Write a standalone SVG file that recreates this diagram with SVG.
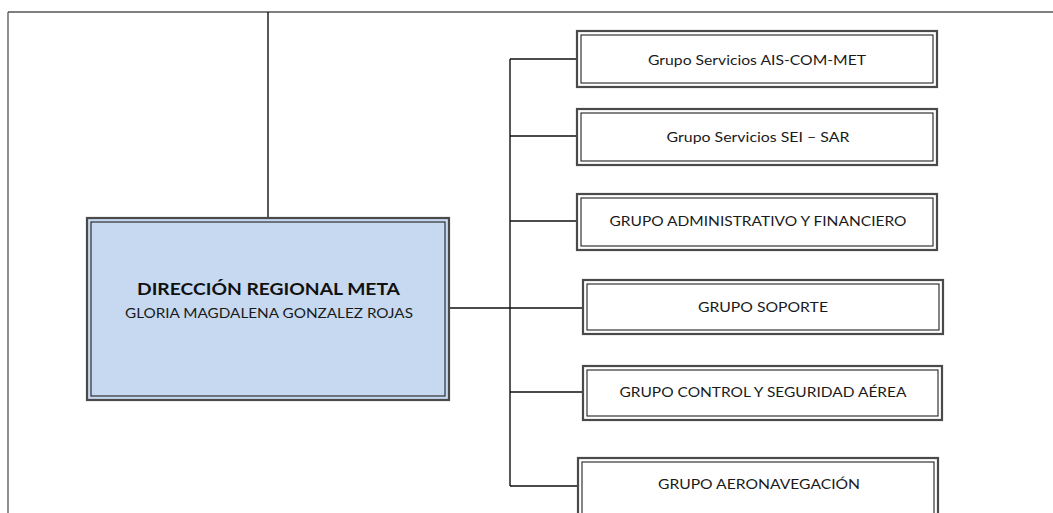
<svg xmlns="http://www.w3.org/2000/svg" width="1053" height="513" viewBox="0 0 1053 513">
<style>
.frame{stroke:#555;stroke-width:1.3;fill:none}
.conn{stroke:#111;stroke-width:1.4;fill:none}
.bo{fill:#fff;stroke:#4a4a4a;stroke-width:2.2}
.bi{fill:none;stroke:#222;stroke-width:1.1}
.mo{fill:#c6d9f0;stroke:#4a4a4a;stroke-width:2.2}
.mi{fill:#c6d9f0;stroke:#222;stroke-width:1.1}
.t{font-family:Lato,"Liberation Sans",sans-serif;font-size:14px;fill:#1a1a1a;text-anchor:middle}
.tb{font-family:Lato,"Liberation Sans",sans-serif;font-size:17px;font-weight:bold;fill:#111;text-anchor:middle}
</style>
<rect width="1053" height="513" fill="#fff"/>
<g id="frame">
<path class="frame" d="M8,12H1053M8,12V513"/>
</g>
<g id="connectors">
<path class="conn" d="M268,12V217"/>
<path class="conn" d="M449,308H583"/>
<path class="conn" d="M510,59V486"/>
<path class="conn" d="M510,59H577M510,136H577M510,221H577M510,392H583M510,486H578"/>
</g>
<g id="main">
<rect class="mo" x="87" y="218" width="362" height="182"/>
<rect class="mi" x="91" y="222" width="354" height="174"/>
<text class="tb" x="268.5" y="295" textLength="263" lengthAdjust="spacingAndGlyphs">DIRECCIÓN REGIONAL META</text>
<text class="t" x="269" y="318" textLength="288" lengthAdjust="spacingAndGlyphs">GLORIA MAGDALENA GONZALEZ ROJAS</text>
</g>
<g id="n1">
<rect class="bo" x="577" y="31" width="360" height="56"/>
<rect class="bi" x="581" y="35" width="352" height="48"/>
<text class="t" x="757" y="65" textLength="218" lengthAdjust="spacingAndGlyphs">Grupo Servicios AIS-COM-MET</text>
</g>
<g id="n2">
<rect class="bo" x="577" y="109" width="360" height="56"/>
<rect class="bi" x="581" y="113" width="352" height="48"/>
<text class="t" x="758" y="142" textLength="183" lengthAdjust="spacingAndGlyphs">Grupo Servicios SEI – SAR</text>
</g>
<g id="n3">
<rect class="bo" x="577" y="194" width="360" height="56"/>
<rect class="bi" x="581" y="198" width="352" height="48"/>
<text class="t" x="758" y="226" textLength="297" lengthAdjust="spacingAndGlyphs">GRUPO  ADMINISTRATIVO Y FINANCIERO</text>
</g>
<g id="n4">
<rect class="bo" x="583" y="280" width="360" height="54"/>
<rect class="bi" x="587" y="284" width="352" height="46"/>
<text class="t" x="763" y="312" textLength="130" lengthAdjust="spacingAndGlyphs">GRUPO  SOPORTE</text>
</g>
<g id="n5">
<rect class="bo" x="583" y="366" width="359" height="54"/>
<rect class="bi" x="587" y="370" width="351" height="46"/>
<text class="t" x="763" y="397" textLength="287" lengthAdjust="spacingAndGlyphs">GRUPO  CONTROL Y SEGURIDAD AÉREA</text>
</g>
<g id="n6">
<rect class="bo" x="578" y="458" width="360" height="60"/>
<rect class="bi" x="582" y="462" width="352" height="60"/>
<text class="t" x="759" y="489" textLength="202" lengthAdjust="spacingAndGlyphs">GRUPO  AERONAVEGACIÓN</text>
</g>
</svg>
